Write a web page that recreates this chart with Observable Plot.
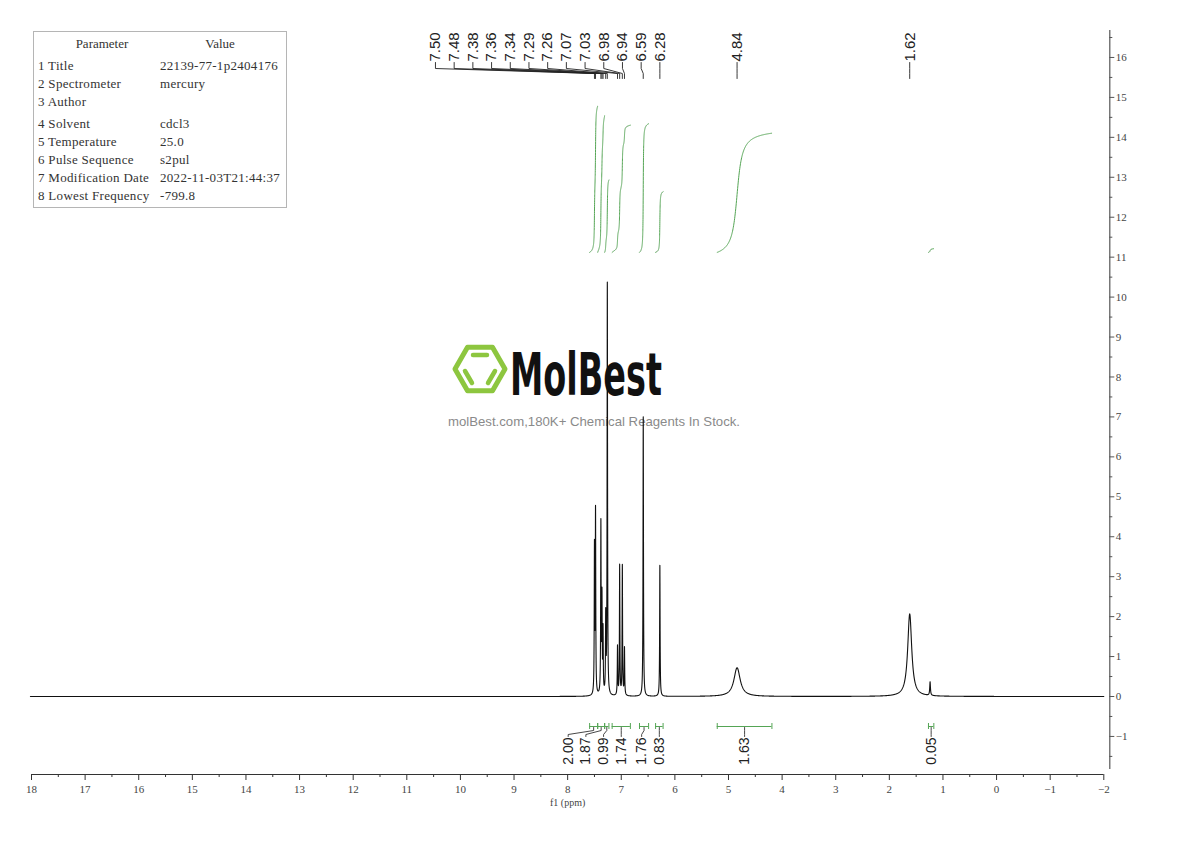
<!DOCTYPE html>
<html><head><meta charset="utf-8">
<script src="https://cdn.jsdelivr.net/npm/d3@7"></script>
<script src="https://cdn.jsdelivr.net/npm/@observablehq/plot@0.6"></script>
<style>body{margin:0;background:#fff;} svg{display:block}</style>
</head><body>
<div id="chart"></div>
<script>
// ---------- data ----------
const peakPpm       = [7.50, 7.48, 7.38, 7.36, 7.34, 7.29, 7.26, 7.07, 7.03, 6.98, 6.94, 6.59, 6.28, 4.84, 1.62, 1.24];
const peakHeight    = [3.65, 4.55, 4.25, 2.35, 1.55, 1.90, 10.30, 1.22, 3.25, 3.25, 1.18, 7.00, 3.28, 0.72, 2.07, 0.34];
const peakHalfWidth = [0.005, 0.005, 0.005, 0.005, 0.005, 0.005, 0.005, 0.005, 0.005, 0.005, 0.005, 0.005, 0.005, 0.07, 0.045, 0.008];
const peakLabelPpm  = [7.50, 7.48, 7.38, 7.36, 7.34, 7.29, 7.26, 7.07, 7.03, 6.98, 6.94, 6.59, 6.28, 4.84, 1.62];
const integFrom     = [7.59, 7.44, 7.31, 7.17, 6.66, 6.36, 5.21, 1.27];
const integTo       = [7.44, 7.31, 7.23, 6.83, 6.49, 6.22, 4.19, 1.17];
const integValue    = [2.00, 1.87, 0.99, 1.74, 1.76, 0.83, 1.63, 0.05];
const xTicks        = [18, 17, 16, 15, 14, 13, 12, 11, 10, 9, 8, 7, 6, 5, 4, 3, 2, 1, 0, -1, -2];
const yTicks        = [-1, 0, 1, 2, 3, 4, 5, 6, 7, 8, 9, 10, 11, 12, 13, 14, 15, 16];
const paramNames    = ["Title", "Spectrometer", "Author", "Solvent", "Temperature", "Pulse Sequence", "Modification Date", "Lowest Frequency"];
const paramValues   = ["22139-77-1p2404176", "mercury", "", "cdcl3", "25.0", "s2pul", "2022-11-03T21:44:37", "-799.8"];

// ---------- layout ----------
const W = 1190, H = 841;
const LEFT = 31, RIGHT = 1103.3, TOP = 30, BOTTOM = 774;
const Y0 = 696, PXU = 39.94;                 // pixel of y=0, pixels per unit
const PXP = (RIGHT - LEFT) / 20;             // pixels per ppm
const pyv = px => (Y0 - px) / PXU;           // pixel row -> y value
const yMin = pyv(BOTTOM), yMax = pyv(TOP);
const GREEN = "#55a555";
const INT_BASE = 11.12, INT_K = 1.83;
const fmt = d => d < 0 ? "\u2212" + (-d) : String(d);

// ---------- spectrum from the peak list ----------
const grid = [];
for (let i = 0; i <= 4004; i++) grid.push(18.02 - i * 0.005);
peakPpm.forEach((p, k) => { if (peakHalfWidth[k] < 0.03) for (let j = -120; j <= 120; j++) grid.push(p + j * 0.0005); });
grid.sort((a, b) => b - a);
const spectrum = grid.map(ppm => ({ppm, v: d3.sum(peakPpm, (p, k) => peakHeight[k] / (1 + ((ppm - p) / peakHalfWidth[k]) ** 2))}));

// integral curves
const integral = [];
integFrom.forEach((a, k) => {
  const b = integTo[k];
  const pts = spectrum.filter(d => d.ppm <= a && d.ppm >= b);
  let cum = 0; const c = [0];
  for (let i = 1; i < pts.length; i++) { cum += (pts[i - 1].v + pts[i].v) / 2 * (pts[i - 1].ppm - pts[i].ppm); c.push(cum); }
  pts.forEach((d, i) => integral.push({seg: k, ppm: d.ppm, y: INT_BASE + c[i] / cum * integValue[k] * INT_K}));
});

// label spreading (right to left)
function spread(vals, gap) {
  const pos = vals.slice();
  for (let i = pos.length - 2; i >= 0; i--) pos[i] = Math.max(vals[i], pos[i + 1] + gap);
  return pos;
}
const peakLabelPos = spread(peakLabelPpm, 18.7 / PXP);
const integCenter = integFrom.map((a, k) => (a + integTo[k]) / 2);
const integLabelPos = spread(integCenter, 0.33);

const peakLeaders = peakLabelPpm.flatMap((p, i) => [
  {i, x: peakLabelPos[i], y: pyv(62)}, {i, x: peakLabelPos[i], y: pyv(68)},
  {i, x: p, y: pyv(73)}, {i, x: p, y: pyv(78)}]);
const integLeaders = integCenter.flatMap((c, i) => [
  {i, x: integLabelPos[i], y: pyv(736)}, {i, x: integLabelPos[i], y: pyv(734)},
  {i, x: c, y: pyv(730)}, {i, x: c, y: pyv(727)}]);

const halfX = d3.range(-1.5, 18, 1);
const halfY = d3.range(-1.5, 16.6, 1);
const serif = "Liberation Serif, DejaVu Serif, serif";
const sans = "Liberation Sans, Arial, sans-serif";

const svg = Plot.plot({
  width: W, height: H,
  marginLeft: LEFT, marginRight: W - RIGHT, marginTop: TOP, marginBottom: H - BOTTOM,
  x: {domain: [18, -2], axis: null},
  y: {domain: [yMin, yMax], axis: null},
  style: {background: "transparent", fontFamily: serif},
  marks: [
    // x axis
    Plot.ruleY([yMin], {x1: 18, x2: -2, stroke: "#333", strokeWidth: 1}),
    Plot.ruleX(xTicks, {x: d => d, y1: yMin, y2: yMin - 6 / PXU, stroke: "#333"}),
    Plot.ruleX(halfX, {x: d => d, y1: yMin, y2: yMin - 3 / PXU, stroke: "#333"}),
    Plot.text(xTicks, {x: d => d, y: yMin, dy: 15, text: fmt, fill: "#444", fontSize: 11, fontFamily: serif}),
    Plot.text(["f1 (ppm)"], {x: 8, y: yMin, dy: 28, text: d => d, fill: "#444", fontSize: 10, fontFamily: serif}),
    // y axis (right)
    Plot.ruleX([-2], {dx: 6, y1: pyv(769), y2: yMax, stroke: "#555", strokeWidth: 1.2}),
    Plot.ruleY(yTicks, {y: d => d, x1: -2, x2: -2 - 5 / PXP, dx: 6, stroke: "#555"}),
    Plot.ruleY(halfY, {y: d => d, x1: -2, x2: -2 - 3 / PXP, dx: 6, stroke: "#555"}),
    Plot.text(yTicks, {x: -2, y: d => d, dx: 12, text: fmt, textAnchor: "start", fill: "#444", fontSize: 11, fontFamily: serif}),
    // spectrum
    Plot.line(spectrum, {x: "ppm", y: "v", stroke: "#111", strokeWidth: 1.1}),
    // integrals
    Plot.line(integral, {x: "ppm", y: "y", z: "seg", stroke: GREEN, strokeWidth: 1}),
    Plot.ruleY(integFrom, {y: pyv(726), x1: d => d, x2: (d, i) => integTo[i], stroke: GREEN}),
    Plot.ruleX(integFrom.concat(integTo), {x: d => d, y1: pyv(723), y2: pyv(729), stroke: GREEN}),
    Plot.line(integLeaders, {x: "x", y: "y", z: "i", stroke: "#333", strokeWidth: 0.9}),
    Plot.text(integValue, {x: (d, i) => integLabelPos[i], y: pyv(737), text: d => d.toFixed(2), rotate: -90,
      textAnchor: "end", lineAnchor: "middle", fontSize: 14, fontFamily: sans, fill: "#222"}),
    // peak labels
    Plot.line(peakLeaders, {x: "x", y: "y", z: "i", stroke: "#222", strokeWidth: 0.9}),
    Plot.text(peakLabelPpm, {x: (d, i) => peakLabelPos[i], y: pyv(61), text: d => d.toFixed(2), rotate: -90,
      textAnchor: "start", lineAnchor: "middle", fontSize: 15, fontFamily: sans, fill: "#222"})
  ]
});

// watermark behind everything
const s = d3.select(svg);
const wm = s.insert("g", ":first-child").attr("text-anchor", "start");
const cx = 480, cy = 369, R = 25;
const hex = d3.range(6).map(i => [cx + R * Math.cos(i * Math.PI / 3), cy + R * Math.sin(i * Math.PI / 3)]);
wm.append("path").attr("d", "M" + hex.join("L") + "Z").attr("fill", "none")
  .attr("stroke", "#8dc63f").attr("stroke-width", 5).attr("stroke-linejoin", "round");
[[473, 355, 487, 355], [465, 371, 472, 383], [495, 371, 488, 383]].forEach(b =>
  wm.append("line").attr("x1", b[0]).attr("y1", b[1]).attr("x2", b[2]).attr("y2", b[3])
    .attr("stroke", "#8dc63f").attr("stroke-width", 4.5).attr("stroke-linecap", "round"));
wm.append("text").attr("x", 510).attr("y", 395).attr("text-anchor", "start").text("MolBest")
  .attr("font-family", "DejaVu Sans, sans-serif").attr("font-weight", "bold").attr("font-size", 58).attr("fill", "#111")
  .attr("textLength", 152).attr("lengthAdjust", "spacingAndGlyphs");
wm.append("text").attr("x", 448).attr("y", 421).attr("text-anchor", "start").attr("dominant-baseline", "central")
  .text("molBest.com,180K+ Chemical Reagents In Stock.")
  .attr("font-family", sans).attr("font-size", 13).attr("fill", "#8a8a8a")
  .attr("textLength", 292).attr("lengthAdjust", "spacingAndGlyphs");

// parameter table
const tb = s.append("g").attr("font-family", serif).attr("font-size", 13).attr("fill", "#333").attr("text-anchor", "start");
tb.append("rect").attr("x", 33.5).attr("y", 31.5).attr("width", 253).attr("height", 176)
  .attr("fill", "none").attr("stroke", "#b5b5b5");
tb.append("text").attr("x", 102).attr("y", 43).attr("text-anchor", "middle").attr("dominant-baseline", "central").text("Parameter");
tb.append("text").attr("x", 220).attr("y", 43).attr("text-anchor", "middle").attr("dominant-baseline", "central").text("Value");
paramNames.forEach((n, i) => {
  const y = 65 + i * 18 + (i >= 3 ? 4 : 0);
  tb.append("text").attr("x", 38).attr("y", y).attr("text-anchor", "start").attr("dominant-baseline", "central").attr("letter-spacing", 0.3).text(`${i + 1} ${n}`);
  tb.append("text").attr("x", 160).attr("y", y).attr("text-anchor", "start").attr("dominant-baseline", "central").attr("letter-spacing", 0.3).text(paramValues[i]);
});

document.getElementById("chart").appendChild(svg);
</script>
</body></html>
